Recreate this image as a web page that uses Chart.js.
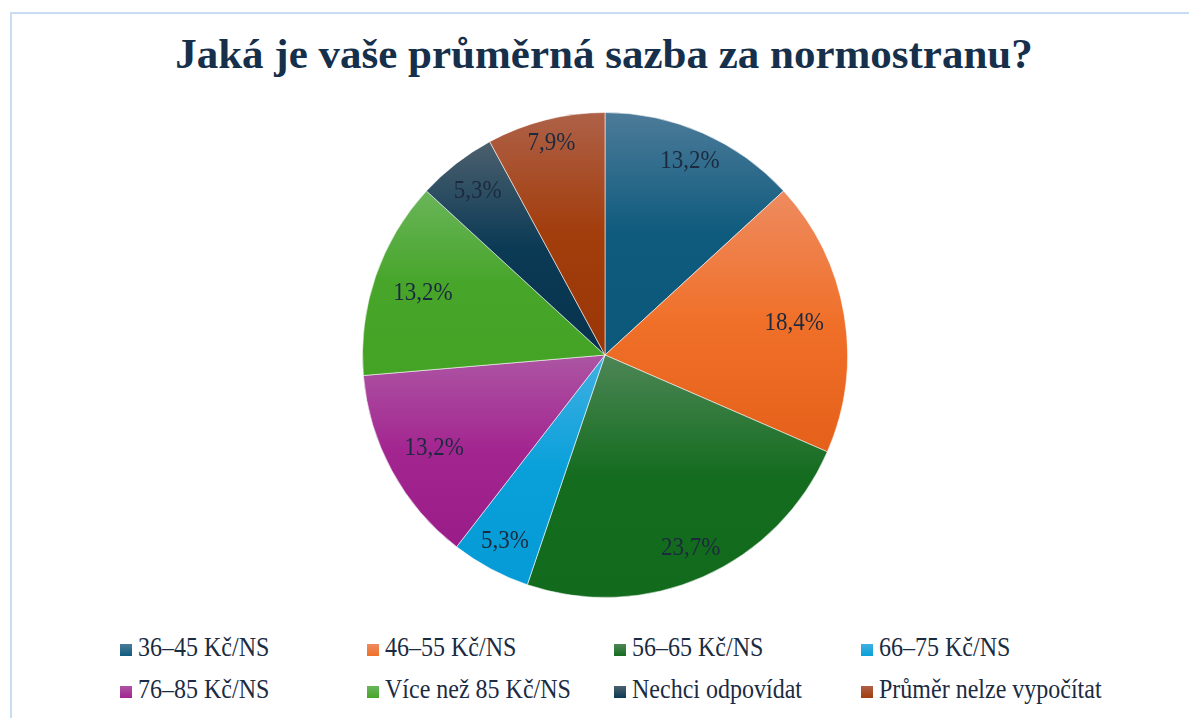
<!DOCTYPE html>
<html lang="cs">
<head>
<meta charset="utf-8">
<title>Průměrná sazba za normostranu</title>
<script src="https://cdn.jsdelivr.net/npm/chart.js@4.4.1/dist/chart.umd.min.js"></script>
<style>
  html, body { margin: 0; padding: 0; background: #fff; }
  body {
    width: 1189px; height: 718px; overflow: hidden; position: relative;
    font-family: 'Liberation Serif', 'Times New Roman', serif;
  }
  .frame {
    position: absolute; left: 10px; top: 12px; width: 1300px; height: 800px;
    border-left: 2px solid #c9ddf2; border-top: 2px solid #c9ddf2;
  }
  h1 {
    position: absolute; left: 0; top: 29px; width: 1208px; margin: 0;
    text-align: center; font-size: 43px; line-height: 50px; font-weight: bold; color: #16304b;
  }
  .pie { position: absolute; left: 362px; top: 112px; width: 486px; height: 486px; }
  .legend { position: absolute; left: 120px; top: 634px; display: grid; grid-template-columns: repeat(4, 247px); row-gap: 16px; }
  .legend span { display: flex; align-items: center; height: 26px; color: #1a2b42; white-space: nowrap; }
  .legend i { display: inline-block; width: 12px; height: 12px; margin: 5px 6px 0 0; }
  .legend b { font-weight: normal; font-size: 24px; line-height: 26px; display: inline-block; transform: scaleY(1.12); }
</style>
</head>
<body>
<div class="frame"></div>
<h1>Jaká je vaše průměrná sazba za normostranu?</h1>
<div class="pie"><canvas id="chart"></canvas></div>
<div class="legend" id="legend"></div>
<script>
const labels = ['36–45 Kč/NS', '46–55 Kč/NS', '56–65 Kč/NS', '66–75 Kč/NS',
  '76–85 Kč/NS', 'Více než 85 Kč/NS', 'Nechci odpovídat', 'Průměr nelze vypočítat'];
const shares = [13.2, 18.4, 23.7, 5.3, 13.2, 13.2, 5.3, 7.9];

// [light top, base, dark bottom]
const tones = [
  ['#4d7b99', '#0f5b7e', '#0c587b'],
  ['#ee8b60', '#f07029', '#e5601a'],
  ['#4d8656', '#146c1f', '#126a1d'],
  ['#40b0e2', '#09a0da', '#059bd6'],
  ['#ac55a3', '#a32590', '#9a1c88'],
  ['#6ab55a', '#47a52a', '#44a224'],
  ['#4c606e', '#0b3a55', '#07324c'],
  ['#ae6148', '#a23d0c', '#9a3506'],
];

const fmt = v => v.toFixed(1).replace('.', ',') + '%';

// vertical gradient over each slice's own extent
function sliceFill(context) {
  const i = context.dataIndex;
  const area = context.chart.chartArea;
  if (!area) return tones[i][1];
  const cx = (area.left + area.right) / 2;
  const cy = (area.top + area.bottom) / 2;
  const r = Math.min(area.right - area.left, area.bottom - area.top) / 2;
  const total = shares.reduce((a, b) => a + b, 0);
  const before = shares.slice(0, i).reduce((a, b) => a + b, 0);
  const a0 = -Math.PI / 2 + (before / total) * Math.PI * 2;
  const a1 = a0 + (shares[i] / total) * Math.PI * 2;
  const ys = [cy, cy + r * Math.sin(a0), cy + r * Math.sin(a1)];
  const within = a => {
    for (let k = -1; k <= 2; k++) {
      const t = a + k * Math.PI * 2;
      if (t >= a0 && t <= a1) return true;
    }
    return false;
  };
  if (within(Math.PI / 2)) ys.push(cy + r);
  if (within(-Math.PI / 2)) ys.push(cy - r);
  const top = Math.min(...ys), bottom = Math.max(...ys);
  const g = context.chart.ctx.createLinearGradient(0, top, 0, bottom);
  g.addColorStop(0, tones[i][0]);
  g.addColorStop(0.5, tones[i][1]);
  g.addColorStop(1, tones[i][2]);
  return g;
}

const sliceLabels = {
  id: 'sliceLabels',
  afterDatasetsDraw(chart) {
    const { ctx } = chart;
    const meta = chart.getDatasetMeta(0);
    ctx.save();
    ctx.font = '23px "Liberation Serif", "Times New Roman", serif';
    ctx.fillStyle = '#1c2a3f';
    ctx.textAlign = 'center';
    ctx.textBaseline = 'middle';
    meta.data.forEach((arc, i) => {
      const { x, y, startAngle, endAngle, outerRadius } =
        arc.getProps(['x', 'y', 'startAngle', 'endAngle', 'outerRadius'], true);
      const mid = (startAngle + endAngle) / 2;
      const text = fmt(shares[i]);
      const hw = ctx.measureText(text).width / 2;
      const c = Math.cos(mid), s = Math.sin(mid);
      const dist = outerRadius - 8 - hw * Math.abs(c) - 10 * Math.abs(s) - 12 * c * c;
      ctx.save();
      ctx.translate(x + dist * c, y + dist * s);
      ctx.scale(1, 1.13);
      ctx.fillText(text, 0, 0);
      ctx.restore();
    });
    ctx.restore();
  },
};

new Chart(document.getElementById('chart'), {
  type: 'pie',
  data: {
    labels,
    datasets: [{
      data: shares,
      backgroundColor: sliceFill,
      borderColor: 'rgba(255,255,255,0.55)',
      borderWidth: 1,
    }],
  },
  options: {
    responsive: true,
    maintainAspectRatio: false,
    animation: false,
    layout: { padding: 0 },
    plugins: {
      legend: { display: false },
      tooltip: { enabled: false },
    },
  },
  plugins: [sliceLabels],
});

document.getElementById('legend').innerHTML = labels.map((label, i) =>
  `<span><i style="background:linear-gradient(${tones[i][0]}, ${tones[i][1]})"></i><b>${label}</b></span>`
).join('');
</script>
</body>
</html>
